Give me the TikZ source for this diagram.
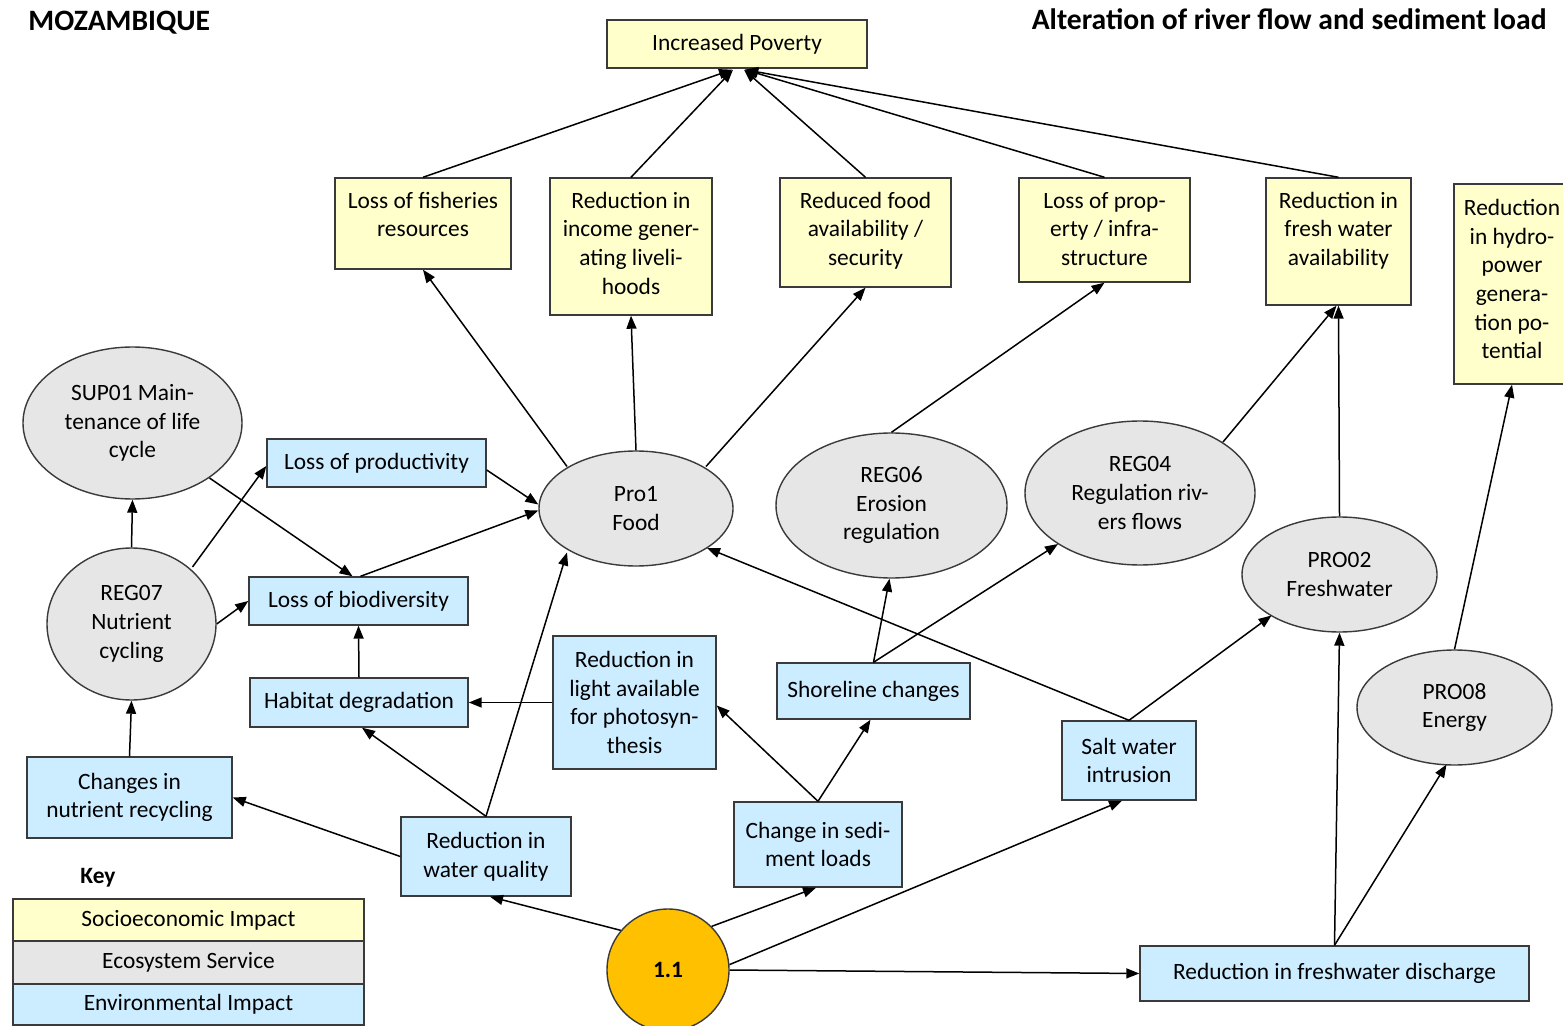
\documentclass[tikz,border=0pt]{standalone}
\usepackage{fontspec}
\setmainfont{Carlito}
\usetikzlibrary{shapes.geometric,arrows.meta,calc}
\definecolor{socio}{HTML}{FFFFCC}
\definecolor{ecosys}{HTML}{E6E6E6}
\definecolor{envir}{HTML}{CCECFF}
\definecolor{driver}{HTML}{FFC000}
\definecolor{rim}{HTML}{3A3A3A}
\begin{document}
\begin{tikzpicture}[x=0.5pt,y=-0.5pt,
  every node/.style={font=\fontsize{11.7}{14.3}\selectfont, inner sep=0pt, align=center},
  sz/.style 2 args={minimum width=#1*0.5pt, minimum height=#2*0.5pt},
  socbox/.style={rectangle, draw=rim, line width=0.7pt, fill=socio},
  envbox/.style={rectangle, draw=rim, line width=0.7pt, fill=envir},
  eco/.style={ellipse, draw=rim, line width=0.7pt, fill=ecosys},
  topnote/.style={anchor=north},
  title/.style={font=\fontsize{14.8}{17}\selectfont\bfseries},
  link/.style={draw=black, line width=0.75pt, -{Triangle[length=6.5pt,width=5pt]}},
]
\useasboundingbox (0,0) rectangle (1563,1026);
\fill[white] (0,0) rectangle (1563,1026);

% headings
\node[title, anchor=base west] (country) at (28,31) {MOZAMBIQUE};
\node[title, anchor=base east] (driverhead) at (1547,30) {Alteration of river flow and sediment load};

% socioeconomic impacts
\node[socbox, sz={260}{48}] (pov) at (737,44) {Increased Poverty};
\node[socbox, sz={176}{91}] (fish) at (423,223.5) {};
\node[socbox, sz={162}{137}] (income) at (631,246.5) {};
\node[socbox, sz={171}{109}] (food) at (865.5,232.5) {};
\node[socbox, sz={171}{104}] (prop) at (1104.5,230) {};
\node[socbox, sz={145}{127}] (fresh) at (1338.5,241.5) {};
\node[socbox, sz={116}{200}] (hydro) at (1512,284) {};

\node[topnote] (fish-t) at ($(fish.north)+(0,10.5)$) {\strut Loss of fisheries\\resources};
\node[topnote] (income-t) at ($(income.north)+(0,10.5)$) {\strut Reduction in\\income gener-\\ating liveli-\\hoods};
\node[topnote] (food-t) at ($(food.north)+(0,10.5)$) {\strut Reduced food\\availability /\\security};
\node[topnote] (prop-t) at ($(prop.north)+(0,10.5)$) {\strut Loss of prop-\\erty / infra-\\structure};
\node[topnote] (fresh-t) at ($(fresh.north)+(0,10.5)$) {\strut Reduction in\\fresh water\\availability};
\node[topnote] (hydro-t) at ($(hydro.north)+(0,12)$) {\strut Reduction\\in hydro-\\power\\genera-\\tion po-\\tential};

% ecosystem services
\node[eco, sz={219}{152}] (sup01) at (132.5,423) {SUP01 Main-\\tenance of life\\cycle};
\node[eco, sz={169}{152}] (reg07) at (131.5,624) {REG07\\Nutrient\\cycling};
\node[eco, sz={194}{115}] (pro1) at (636,508.5) {Pro1\\Food};
\node[eco, sz={231}{145}] (reg06) at (891.5,505.5) {REG06\\Erosion\\regulation};
\node[eco, sz={230}{144}] (reg04) at (1140,493) {REG04\\Regulation riv-\\ers flows};
\node[eco, sz={195}{115}] (pro02) at (1339.5,574.5) {PRO02\\Freshwater};
\node[eco, sz={195}{115}] (pro08) at (1454.5,707.5) {PRO08\\Energy};

% environmental impacts
\node[envbox, sz={219}{48}] (lop) at (376.5,463) {Loss of productivity};
\node[envbox, sz={219}{48}] (lob) at (358.5,601) {Loss of biodiversity};
\node[envbox, sz={218}{49}] (hd) at (359,702.5) {Habitat degradation};
\node[envbox, sz={163}{133}] (light) at (634.5,702.5) {Reduction in\\light available\\for photosyn-\\thesis};
\node[envbox, sz={193}{56}] (shore) at (873.5,691) {Shoreline changes};
\node[envbox, sz={168}{85}] (csl) at (818,844.5) {Change in sedi-\\ment loads};
\node[envbox, sz={134}{79}] (salt) at (1129,760.5) {Salt water\\intrusion};
\node[envbox, sz={205}{81}] (cnr) at (129.5,797.5) {Changes in\\nutrient recycling};
\node[envbox, sz={170}{79}] (rwq) at (486,856.5) {Reduction in\\water quality};
\node[envbox, sz={389}{55}] (rfd) at (1334.5,973.5) {Reduction in freshwater discharge};

% driver
\node[circle, draw=rim, line width=0.7pt, fill=driver, minimum size=122*0.5pt, font=\fontsize{11.7}{14.3}\selectfont\bfseries] (drv) at (668,970) {1.1};

% key
\node[font=\fontsize{11.7}{14.3}\selectfont\bfseries] (keyhead) at (98,878) {Key};
\node[socbox, sz={351}{42}] (keysoc) at (188.5,920) {Socioeconomic Impact};
\node[eco, rectangle, sz={351}{43}] (keyeco) at (188.5,962.5) {Ecosystem Service};
\node[envbox, sz={351}{41}] (keyenv) at (188.5,1004.5) {Environmental Impact};

% links into poverty
\draw[link] (fish.north) -- ($(pov.south)+(-5,1)$);
\draw[link] (income.north) -- ($(pov.south)+(-4,1)$);
\draw[link] (food.north) -- ($(pov.south)+(7,1)$);
\draw[link] (prop.north) -- ($(pov.south)+(8,1)$);
\draw[link] (fresh.north) -- ($(pov.south)+(8,1)$);

% services to socioeconomic impacts
\draw[link] ($(pro1)+(-69,-42)$) -- (fish.south);
\draw[link] (pro1.north) -- (income.south);
\draw[link] ($(pro1)+(70,-42)$) -- (food.south);
\draw[link] (reg06.north) -- (prop.south);
\draw[link] ($(reg04)+(83,-51)$) -- ($(fresh.south)+(-2,0)$);
\draw[link] (pro02.north) -- (fresh.south);
\draw[link] (pro08.north) -- (hydro.south);

% left cluster
\draw[link] (reg07.north) -- (sup01.south);
\draw[link] ($(reg07)+(61,-57)$) -- ($(lop.west)+(0,3)$);
\draw[link] (reg07.east) -- (lob.west);
\draw[link] ($(sup01)+(77,55)$) -- ($(lob.north)+(-6,0)$);
\draw[link] ($(lop.east)+(0,7)$) -- ($(pro1.west)+(0,-4)$);
\draw[link] ($(lob.north)+(2,0)$) -- ($(pro1.west)+(0,2)$);
\draw[link] (hd.north) -- (lob.south);
\draw[link] (light.west) -- (hd.east);
\draw[link] (rwq.north) -- ($(hd.south)+(3,0)$);
\draw[link] (rwq.north) -- ($(pro1)+(-69,44)$);
\draw[link] (rwq.west) -- (cnr.east);
\draw[link] (cnr.north) -- (reg07.south);

% from the driver
\draw[link] (drv.140) -- ($(rwq.south)+(4,0)$);
\draw[link] (drv.45) -- ($(csl.south)+(-2,0)$);
\draw[link] (drv.5) -- ($(salt.south)+(-7,0)$);
\draw[link] (drv.east) -- (rfd.west);

% middle and right cluster
\draw[link] (csl.north) -- ($(light.east)+(0,3)$);
\draw[link] (csl.north) -- ($(shore.south)+(-3,0)$);
\draw[link] (shore.north) -- ($(reg06.south)+(-2,0)$);
\draw[link] (shore.north) -- ($(reg04)+(-82,51)$);
\draw[link] (salt.north) -- ($(pro1)+(71,39.5)$);
\draw[link] (salt.north) -- ($(pro02)+(-68,41)$);
\draw[link] (rfd.north) -- (pro02.south);
\draw[link] (rfd.north) -- ($(pro08)+(-8,57)$);
\end{tikzpicture}
\end{document}
